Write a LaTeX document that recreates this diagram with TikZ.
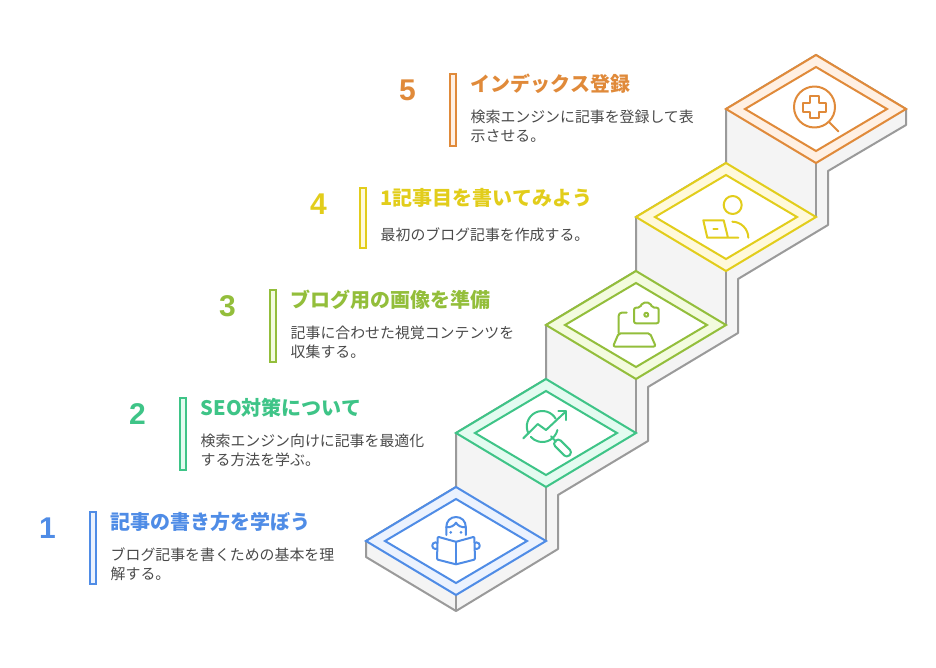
\documentclass[tikz,border=0pt]{standalone}
\usepackage{fontspec}
\setmainfont{Noto Sans CJK JP}
\newfontfamily\latinfont{Liberation Sans}
\usetikzlibrary{positioning}
\usetikzlibrary{shapes.geometric}

\definecolor{colblue}{HTML}{4F8CE6}
\definecolor{tintblue}{HTML}{EBF2FE}
\definecolor{colgreen}{HTML}{3EC487}
\definecolor{tintgreen}{HTML}{E3FBF0}
\definecolor{collime}{HTML}{93BE3B}
\definecolor{tintlime}{HTML}{F3FBDE}
\definecolor{colyellow}{HTML}{E2CD1B}
\definecolor{tintyellow}{HTML}{FFF9DA}
\definecolor{colorange}{HTML}{E08A3A}
\definecolor{tintorange}{HTML}{FFF0E3}
\definecolor{colside}{HTML}{9A9A9A}
\definecolor{tintside}{HTML}{F4F4F4}
\definecolor{coltext}{HTML}{4A4A4A}

\tikzset{
	tread/.style={diamond, draw=#1, fill=white, line width=2pt, inner sep=0pt, outer sep=0pt, aspect=1.667},
	outertread/.style 2 args={tread=#1, fill=#2, minimum width=180pt, minimum height=108pt},
	innertread/.style={tread=#1, minimum width=142pt, minimum height=84pt},
	stepbar/.style 2 args={draw=#1, fill=#2, line width=2pt, inner sep=0pt, minimum width=6pt},
	stepnum/.style={text=#1, inner sep=0pt, font=\latinfont\bfseries\fontsize{30}{30}\selectfont},
	steptitle/.style={text=#1, inner sep=0pt, font=\bfseries\fontsize{20}{20}\selectfont},
	stepdesc/.style={text=coltext, inner sep=0pt, align=left, font=\fontsize{14.9}{18.5}\selectfont},
	icon/.style={draw=#1, line width=2pt, line cap=round, line join=round},
	side/.style={draw=colside, line width=2pt},
}

\begin{document}
\begin{tikzpicture}[x=1pt,y=-1pt]
		\useasboundingbox (0,0) rectangle (936,667);
		% stairs body
		\draw [side, fill=tintside, line join=round]
			(366,541) -- (366,557) -- (456,611) -- (558,549) -- (558,495) -- (648,441) -- (648,387)
			-- (738,333) -- (738,279) -- (828,225) -- (828,171) -- (906,125) -- (906,109) -- (816,55)
			-- (726,109) -- (726,163) -- (636,217) -- (636,271) -- (546,325) -- (546,379)
			-- (456,433) -- (456,487) -- cycle;
		\draw [side] (816,163) -- (816,217);
		\draw [side] (726,271) -- (726,325);
		\draw [side] (636,379) -- (636,433);
		\draw [side] (546,487) -- (546,541);
		\draw [side] (456,595) -- (456,611);
		% treads
		\node (tread5) [outertread={colorange}{tintorange}] at (816,109) {};
		\node (inner5) [innertread=colorange] at (tread5) {};
		\node (tread4) [outertread={colyellow}{tintyellow}] at (726,217) {};
		\node (inner4) [innertread=colyellow] at (tread4) {};
		\node (tread3) [outertread={collime}{tintlime}] at (636,325) {};
		\node (inner3) [innertread=collime] at (tread3) {};
		\node (tread2) [outertread={colgreen}{tintgreen}] at (546,433) {};
		\node (inner2) [innertread=colgreen] at (tread2) {};
		\node (tread1) [outertread={colblue}{tintblue}] at (456,541) {};
		\node (inner1) [innertread=colblue] at (tread1) {};
		% bars
		\node (bar5) [stepbar={colorange}{tintorange}, minimum height=72pt, anchor=north] at (453,73) {};
		\node (bar4) [stepbar={colyellow}{tintyellow}, minimum height=60pt, anchor=north] at (363,187) {};
		\node (bar3) [stepbar={collime}{tintlime}, minimum height=72pt, anchor=north] at (273,289) {};
		\node (bar2) [stepbar={colgreen}{tintgreen}, minimum height=72pt, anchor=north] at (183,397) {};
		\node (bar1) [stepbar={colblue}{tintblue}, minimum height=72pt, anchor=north] at (93,511) {};
		% numbers
		\node (num5) [stepnum=colorange, left=33pt of bar5.north west, yshift=-17pt] {5};
		\node (num4) [stepnum=colyellow, left=32pt of bar4.north west, yshift=-17pt] {4};
		\node (num3) [stepnum=collime, left=33pt of bar3.north west, yshift=-17pt] {3};
		\node (num2) [stepnum=colgreen, left=33pt of bar2.north west, yshift=-17pt] {2};
		\node (num1) [stepnum=colblue, left=33pt of bar1.north west, yshift=-17pt] {1};
		% titles
		\node (title5) [steptitle=colorange, right=13.5pt of bar5.north east, yshift=-11pt] {インデックス登録};
		\node (title4) [steptitle=colyellow, right=13.5pt of bar4.north east, yshift=-11pt] {1記事目を書いてみよう};
		\node (title3) [steptitle=collime, right=13.5pt of bar3.north east, yshift=-11pt] {ブログ用の画像を準備};
		\node (title2) [steptitle=colgreen, right=13.5pt of bar2.north east, yshift=-11pt] {SEO対策について};
		\node (title1) [steptitle=colblue, right=13.5pt of bar1.north east, yshift=-11pt] {記事の書き方を学ぼう};
		% descriptions
		\node (desc5) [stepdesc, below right=37pt and 13.5pt of bar5.north east] {検索エンジンに記事を登録して表\\示させる。};
		\node (desc4) [stepdesc, below right=41pt and 13.5pt of bar4.north east] {最初のブログ記事を作成する。};
		\node (desc3) [stepdesc, below right=37pt and 13.5pt of bar3.north east] {記事に合わせた視覚コンテンツを\\収集する。};
		\node (desc2) [stepdesc, below right=37pt and 13.5pt of bar2.north east] {検索エンジン向けに記事を最適化\\する方法を学ぶ。};
		\node (desc1) [stepdesc, below right=37pt and 13.5pt of bar1.north east] {ブログ記事を書くための基本を理\\解する。};
		% icon 5, magnifier with cross
		\draw [icon=colorange] (814.5,107) circle [radius=20.5];
		\draw [icon=colorange] (810,96) -- (819,96) -- (819,102.5) -- (826,102.5) -- (826,111.5) -- (819,111.5) -- (819,118) -- (810,118) -- (810,111.5) -- (803,111.5) -- (803,102.5) -- (810,102.5) -- cycle;
		\draw [icon=colorange] (829.5,122.5) -- (838.5,131.5);
		% icon 4, person at laptop
		\draw [icon=colyellow] (732.7,205) circle [radius=9];
		\draw [icon=colyellow] (738.3,237.7) -- (707.3,237.7) -- (703.3,220.3) -- (723.7,220.3) -- (728,237.7);
		\draw [icon=colyellow] (713.3,229) -- (717.7,229);
		\draw [icon=colyellow] (732.3,221.7) .. controls (741,221.7) and (748.3,229) .. (748.3,237.7);
		% icon 3, laptop with camera
		\draw [icon=collime, rounded corners=2pt] (640,307.7) -- (642.3,302.7) -- (650,302.7) -- (652.3,307.7) -- (658.7,307.7) -- (658.7,323.3) -- (634,323.3) -- (634,307.7) -- cycle;
		\draw [icon=collime] (646.3,314.7) circle [radius=2];
		\draw [icon=collime, rounded corners=3pt] (626.7,312.7) -- (618.7,312.7) -- (618.7,333.3);
		\draw [icon=collime, rounded corners=2pt] (618.7,333.3) -- (650,333.3) -- (655.8,346.5) -- (613,346.5) -- cycle;
		% icon 2, chart with magnifier
		\draw [icon=colgreen] (542.3,426.5) ++(-207:15.5) arc (-207:-30:15.5);
		\draw [icon=colgreen] (542.3,426.5) ++(13:15.5) arc (13:138:15.5);
		\draw [icon=colgreen] (523.3,438.3) -- (537.7,424) -- (546,430) -- (566,411.3);
		\draw [icon=colgreen] (558.3,411.3) -- (566,411.3) -- (566,420);
		\draw [icon=colgreen] (551,436.3) -- (556,441.7);
		\draw [icon=colgreen, rounded corners=3.5pt, rotate around={-45:(562.5,448)}] (552.5,444) rectangle (572.5,452);
		% icon 1, reader with book
		\draw [icon=colblue] (446.3,535) -- (446.3,527) .. controls (446.3,521) and (450.5,517) .. (456,517) .. controls (461.5,517) and (465.8,521) .. (465.8,527) -- (465.8,535);
		\draw [icon=colblue] (446.3,527.3) .. controls (451,527.3) and (454,526) .. (456,522.7) .. controls (458,526) and (461,527.3) .. (465.8,527.3);
		\fill [colblue] (450.7,532.3) circle [radius=1.5];
		\fill [colblue] (461,532.3) circle [radius=1.5];
		\draw [icon=colblue] (435.5,545.7) circle [radius=3.3];
		\draw [icon=colblue] (476.5,545.7) circle [radius=3.3];
		\draw [icon=colblue, fill=white, rounded corners=1pt] (456,541.8) -- (437.7,536.7) -- (437,559.5) -- (456,564.3) -- (475,559.5) -- (474.3,536.7) -- cycle;
		\draw [icon=colblue] (456,541.8) -- (456,564.3);
		\end{tikzpicture}
\end{document}
